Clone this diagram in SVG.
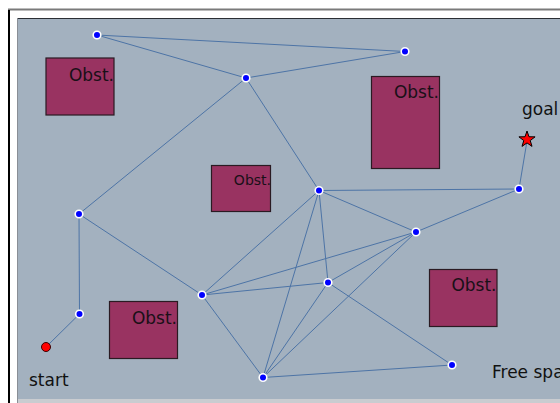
<svg xmlns="http://www.w3.org/2000/svg" width="560" height="403" viewBox="0 0 560 403">
<style>
.obst{fill:#993361;stroke:#2a1a22;stroke-width:1.2}
.olbl{font-family:"DejaVu Sans",Verdana,sans-serif;fill:#1a1018;text-anchor:end}
.lbl{font-family:"DejaVu Sans",Verdana,sans-serif;font-size:17px;fill:#111}
.edge{stroke:#4d74a6;stroke-width:1;fill:none}
.node{fill:#0000ff;stroke:#ffffff;stroke-width:1.6}
</style>
<rect width="560" height="403" fill="#ffffff"/>
<line x1="8" y1="9.5" x2="560" y2="9.5" stroke="#7a7a7a" stroke-width="2"/>
<line x1="9" y1="10" x2="9" y2="403" stroke="#000" stroke-width="2"/>
<rect x="18" y="19" width="542" height="380" fill="#a3b1bf"/>
<rect x="18" y="399" width="542" height="4" fill="#c9ccd0"/>
<line x1="17" y1="18.5" x2="560" y2="18.5" stroke="#2b2f35" stroke-width="1.2"/>
<line x1="17.5" y1="18" x2="17.5" y2="403" stroke="#8a8f96" stroke-width="1"/>

<g id="obstacle1"><rect class="obst" x="46" y="58" width="68" height="57"/><text class="olbl" x="114" y="81" font-size="17">Obst.</text></g>
<g id="obstacle2"><rect class="obst" x="211.5" y="165.5" width="59" height="46"/><text class="olbl" x="271" y="185" font-size="14">Obst.</text></g>
<g id="obstacle3"><rect class="obst" x="371.5" y="76.5" width="68" height="92"/><text class="olbl" x="439" y="98" font-size="17">Obst.</text></g>
<g id="obstacle4"><rect class="obst" x="429.5" y="269.5" width="67.5" height="57"/><text class="olbl" x="496.5" y="291" font-size="17">Obst.</text></g>
<g id="obstacle5"><rect class="obst" x="109.5" y="301.5" width="68" height="57"/><text class="olbl" x="177" y="324" font-size="17">Obst.</text></g>

<g id="connectors">
<line class="edge" x1="97" y1="35" x2="405" y2="51.5"/>
<line class="edge" x1="97" y1="35" x2="246" y2="78"/>
<line class="edge" x1="246" y1="78" x2="405" y2="51.5"/>
<line class="edge" x1="246" y1="78" x2="79" y2="214"/>
<line class="edge" x1="246" y1="78" x2="319" y2="190.5"/>
<line class="edge" x1="79" y1="214" x2="79.5" y2="314"/>
<line class="edge" x1="79.5" y1="314" x2="46" y2="347"/>
<line class="edge" x1="79" y1="214" x2="202" y2="295"/>
<line class="edge" x1="319" y1="190.5" x2="519" y2="189"/>
<line class="edge" x1="519" y1="189" x2="527" y2="141"/>
<line class="edge" x1="319" y1="190.5" x2="416" y2="232"/>
<line class="edge" x1="319" y1="190.5" x2="202" y2="295"/>
<line class="edge" x1="319" y1="190.5" x2="328" y2="282.5"/>
<line class="edge" x1="319" y1="190.5" x2="263" y2="377.5"/>
<line class="edge" x1="416" y1="232" x2="519" y2="189"/>
<line class="edge" x1="416" y1="232" x2="202" y2="295"/>
<line class="edge" x1="416" y1="232" x2="328" y2="282.5"/>
<line class="edge" x1="416" y1="232" x2="263" y2="377.5"/>
<line class="edge" x1="202" y1="295" x2="328" y2="282.5"/>
<line class="edge" x1="202" y1="295" x2="263" y2="377.5"/>
<line class="edge" x1="328" y1="282.5" x2="452" y2="365"/>
<line class="edge" x1="328" y1="282.5" x2="263" y2="377.5"/>
<line class="edge" x1="263" y1="377.5" x2="452" y2="365"/>
</g>

<g id="nodeA"><circle class="node" cx="97" cy="35" r="3.8"/></g>
<g id="nodeB"><circle class="node" cx="405" cy="51.5" r="3.8"/></g>
<g id="nodeC"><circle class="node" cx="246" cy="78" r="3.8"/></g>
<g id="nodeD"><circle class="node" cx="79" cy="214" r="3.8"/></g>
<g id="nodeE"><circle class="node" cx="319" cy="190.5" r="3.8"/></g>
<g id="nodeF"><circle class="node" cx="519" cy="189" r="3.8"/></g>
<g id="nodeG"><circle class="node" cx="416" cy="232" r="3.8"/></g>
<g id="nodeH"><circle class="node" cx="202" cy="295" r="3.8"/></g>
<g id="nodeI"><circle class="node" cx="328" cy="282.5" r="3.8"/></g>
<g id="nodeJ"><circle class="node" cx="79.5" cy="314" r="3.8"/></g>
<g id="nodeK"><circle class="node" cx="452" cy="365" r="3.8"/></g>
<g id="nodeL"><circle class="node" cx="263" cy="377.5" r="3.8"/></g>

<g id="start"><circle cx="46" cy="347" r="4.5" fill="#ff0000" stroke="#3a0000" stroke-width="1"/><text class="lbl" x="29" y="386">start</text></g>
<g id="goal"><polygon points="527,131 529,136.75 535.08,136.87 530.23,140.55 532,146.38 527,142.9 522,146.38 523.77,140.55 518.92,136.87 525,136.75" fill="#ff0000" stroke="#000" stroke-width="1"/><text class="lbl" x="522" y="115">goal</text></g>
<g id="freespace"><text class="lbl" x="492" y="378">Free space</text></g>
</svg>
